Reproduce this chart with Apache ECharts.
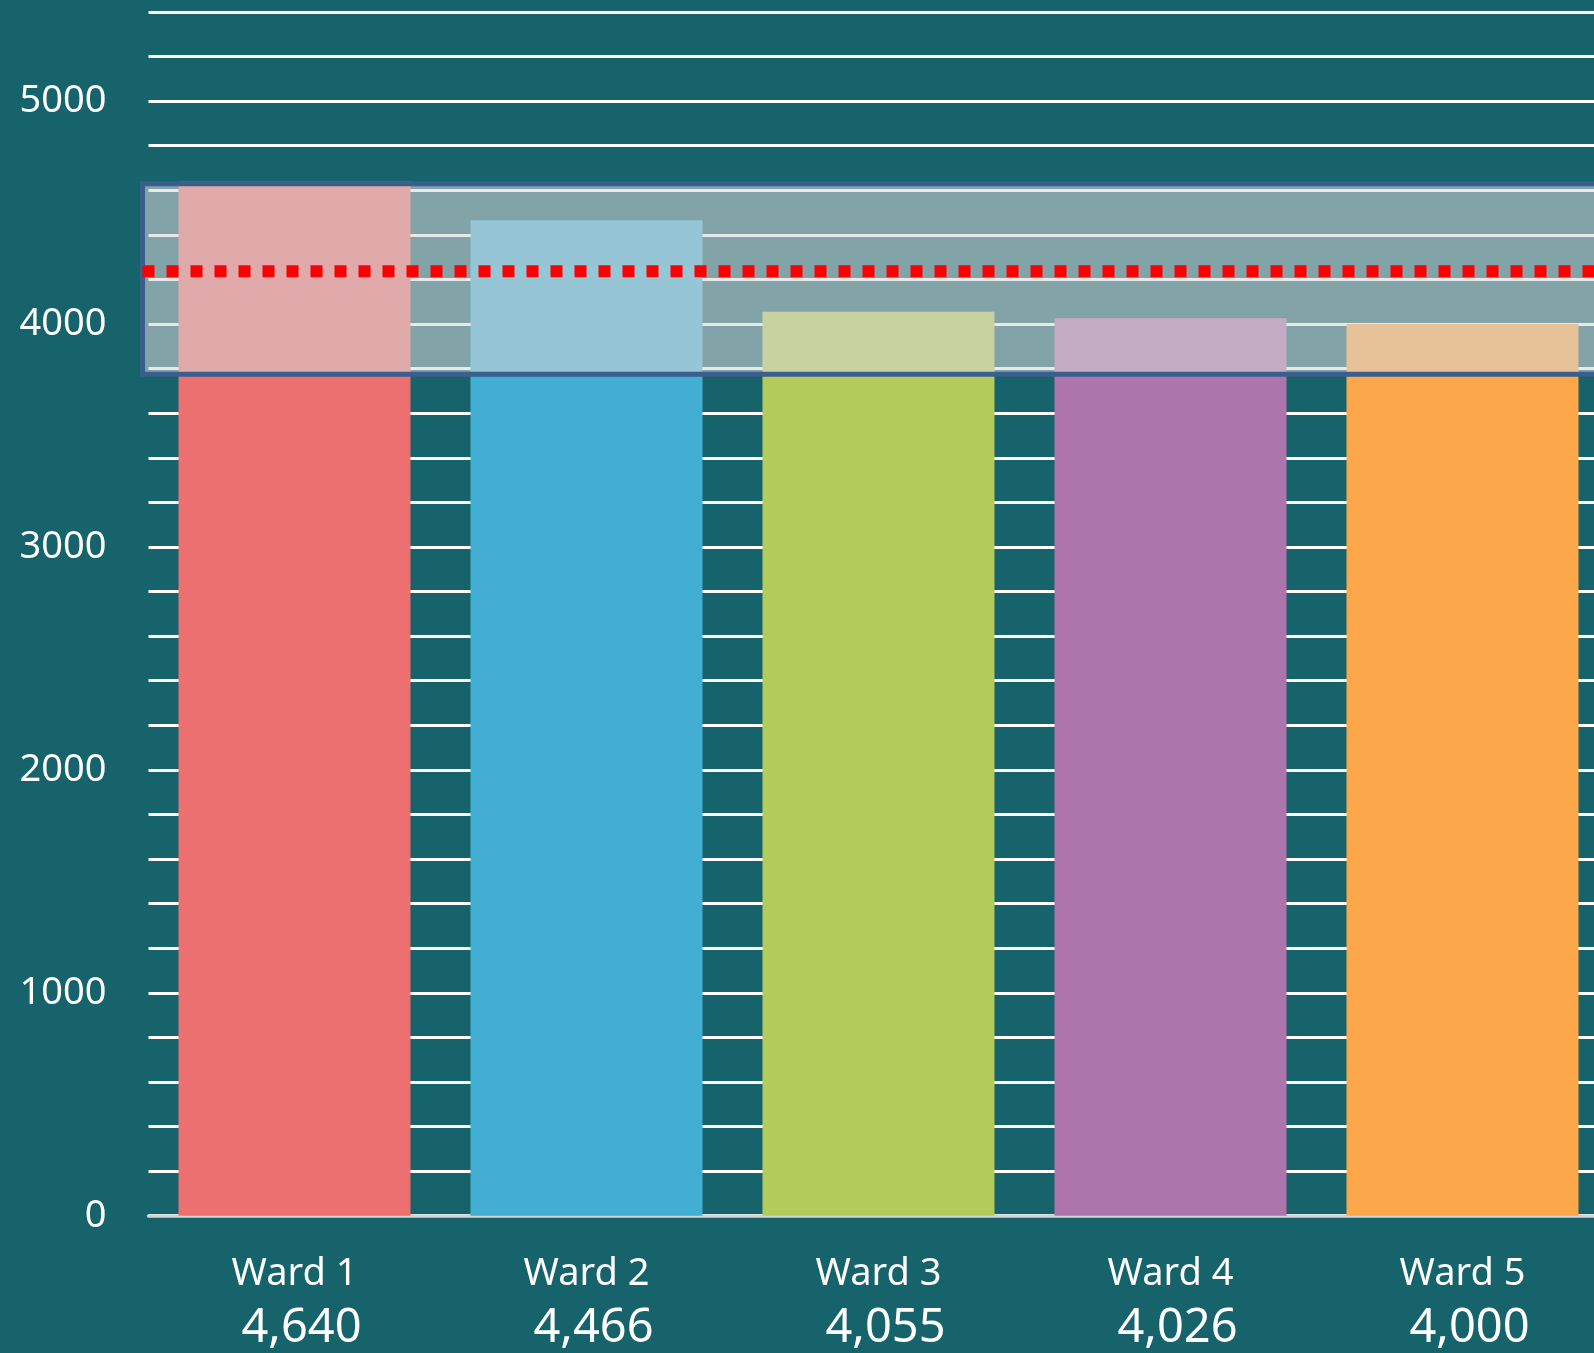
<!DOCTYPE html>
<html><head><meta charset="utf-8">
<script src="https://cdn.jsdelivr.net/npm/echarts@6/dist/echarts.min.js"></script>
<style>html,body{margin:0;padding:0;background:#16636B;} #c{width:1594px;height:1353px;}</style>
</head><body><div id="c"></div>
<script>
const categories = ['Ward 1', 'Ward 2', 'Ward 3', 'Ward 4', 'Ward 5'];
const values = [4640, 4466, 4055, 4026, 4000];
const barColors = ['#EC7070', '#42AED3', '#B2CB5A', '#AE75AD', '#FBA74A'];
const highlightRange = [3775, 4630];
const yTickLabels = [0, 1000, 2000, 3000, 4000, 5000];

const avg = values.reduce((a, b) => a + b, 0) / values.length;
const FONT = '"Noto Sans", "Open Sans", sans-serif';
const chart = echarts.init(document.getElementById('c'), null, {renderer: 'canvas'});

const option = {
  backgroundColor: '#16636B',
  animation: false,
  grid: {left: 148.5, width: 1460, top: 12, height: 1203.7, containLabel: false, outerBoundsMode: 'none'},
  xAxis: {
    type: 'category',
    data: categories,
    axisLine: {lineStyle: {color: '#D4D4D4', width: 3.5}},
    axisTick: {show: false},
    axisLabel: {
      interval: 0,
      margin: 31,
      fontFamily: FONT,
      formatter: (v, i) => '{w|' + v + '}\n{v|' + values[i].toLocaleString('en-US') + '}',
      rich: {
        w: {color: '#FFFFFF', fontSize: 38, lineHeight: 54, fontFamily: FONT},
        v: {color: '#FFFFFF', fontSize: 47, lineHeight: 56, fontFamily: FONT, padding: [0, 0, 0, 14]}
      }
    }
  },
  yAxis: {
    type: 'value',
    min: 0,
    max: 5400,
    interval: 200,
    axisLine: {show: false},
    axisTick: {show: false},
    axisLabel: {
      formatter: v => yTickLabels.includes(v) ? String(v) : '',
      color: '#FFFFFF',
      fontSize: 38,
      fontFamily: FONT,
      margin: 42
    },
    splitLine: {lineStyle: {color: '#FFFFFF', width: 3}}
  },
  series: [
    {
      type: 'bar',
      data: values.map((v, i) => ({value: v, itemStyle: {color: barColors[i]}})),
      barWidth: 232,
      z: 2
    },
    {
      type: 'custom',
      z: 5,
      encode: {x: 0, y: [1, 2, 3]},
      data: [[0, highlightRange[0], highlightRange[1], avg]],
      renderItem: function (params, api) {
        const cs = params.coordSys;
        const yBot = api.coord([0, api.value(1)])[1];
        const yTop = api.coord([0, api.value(2)])[1];
        const yAvg = api.coord([0, api.value(3)])[1];
        const x0 = cs.x - 6;
        const x1 = api.getWidth() + 10;
        return {
          type: 'group',
          children: [
            {type: 'rect', shape: {x: x0, y: yTop, width: x1 - x0, height: yBot - yTop},
             style: {fill: 'rgba(215,215,215,0.56)', stroke: '#3A5F8C', lineWidth: 5}},
            {type: 'line', shape: {x1: x0, y1: yAvg, x2: x1, y2: yAvg},
             style: {stroke: '#FF0000', lineWidth: 12, lineDash: [12, 12]}}
          ]
        };
      }
    }
  ]
};
chart.setOption(option);
</script>
</body></html>
